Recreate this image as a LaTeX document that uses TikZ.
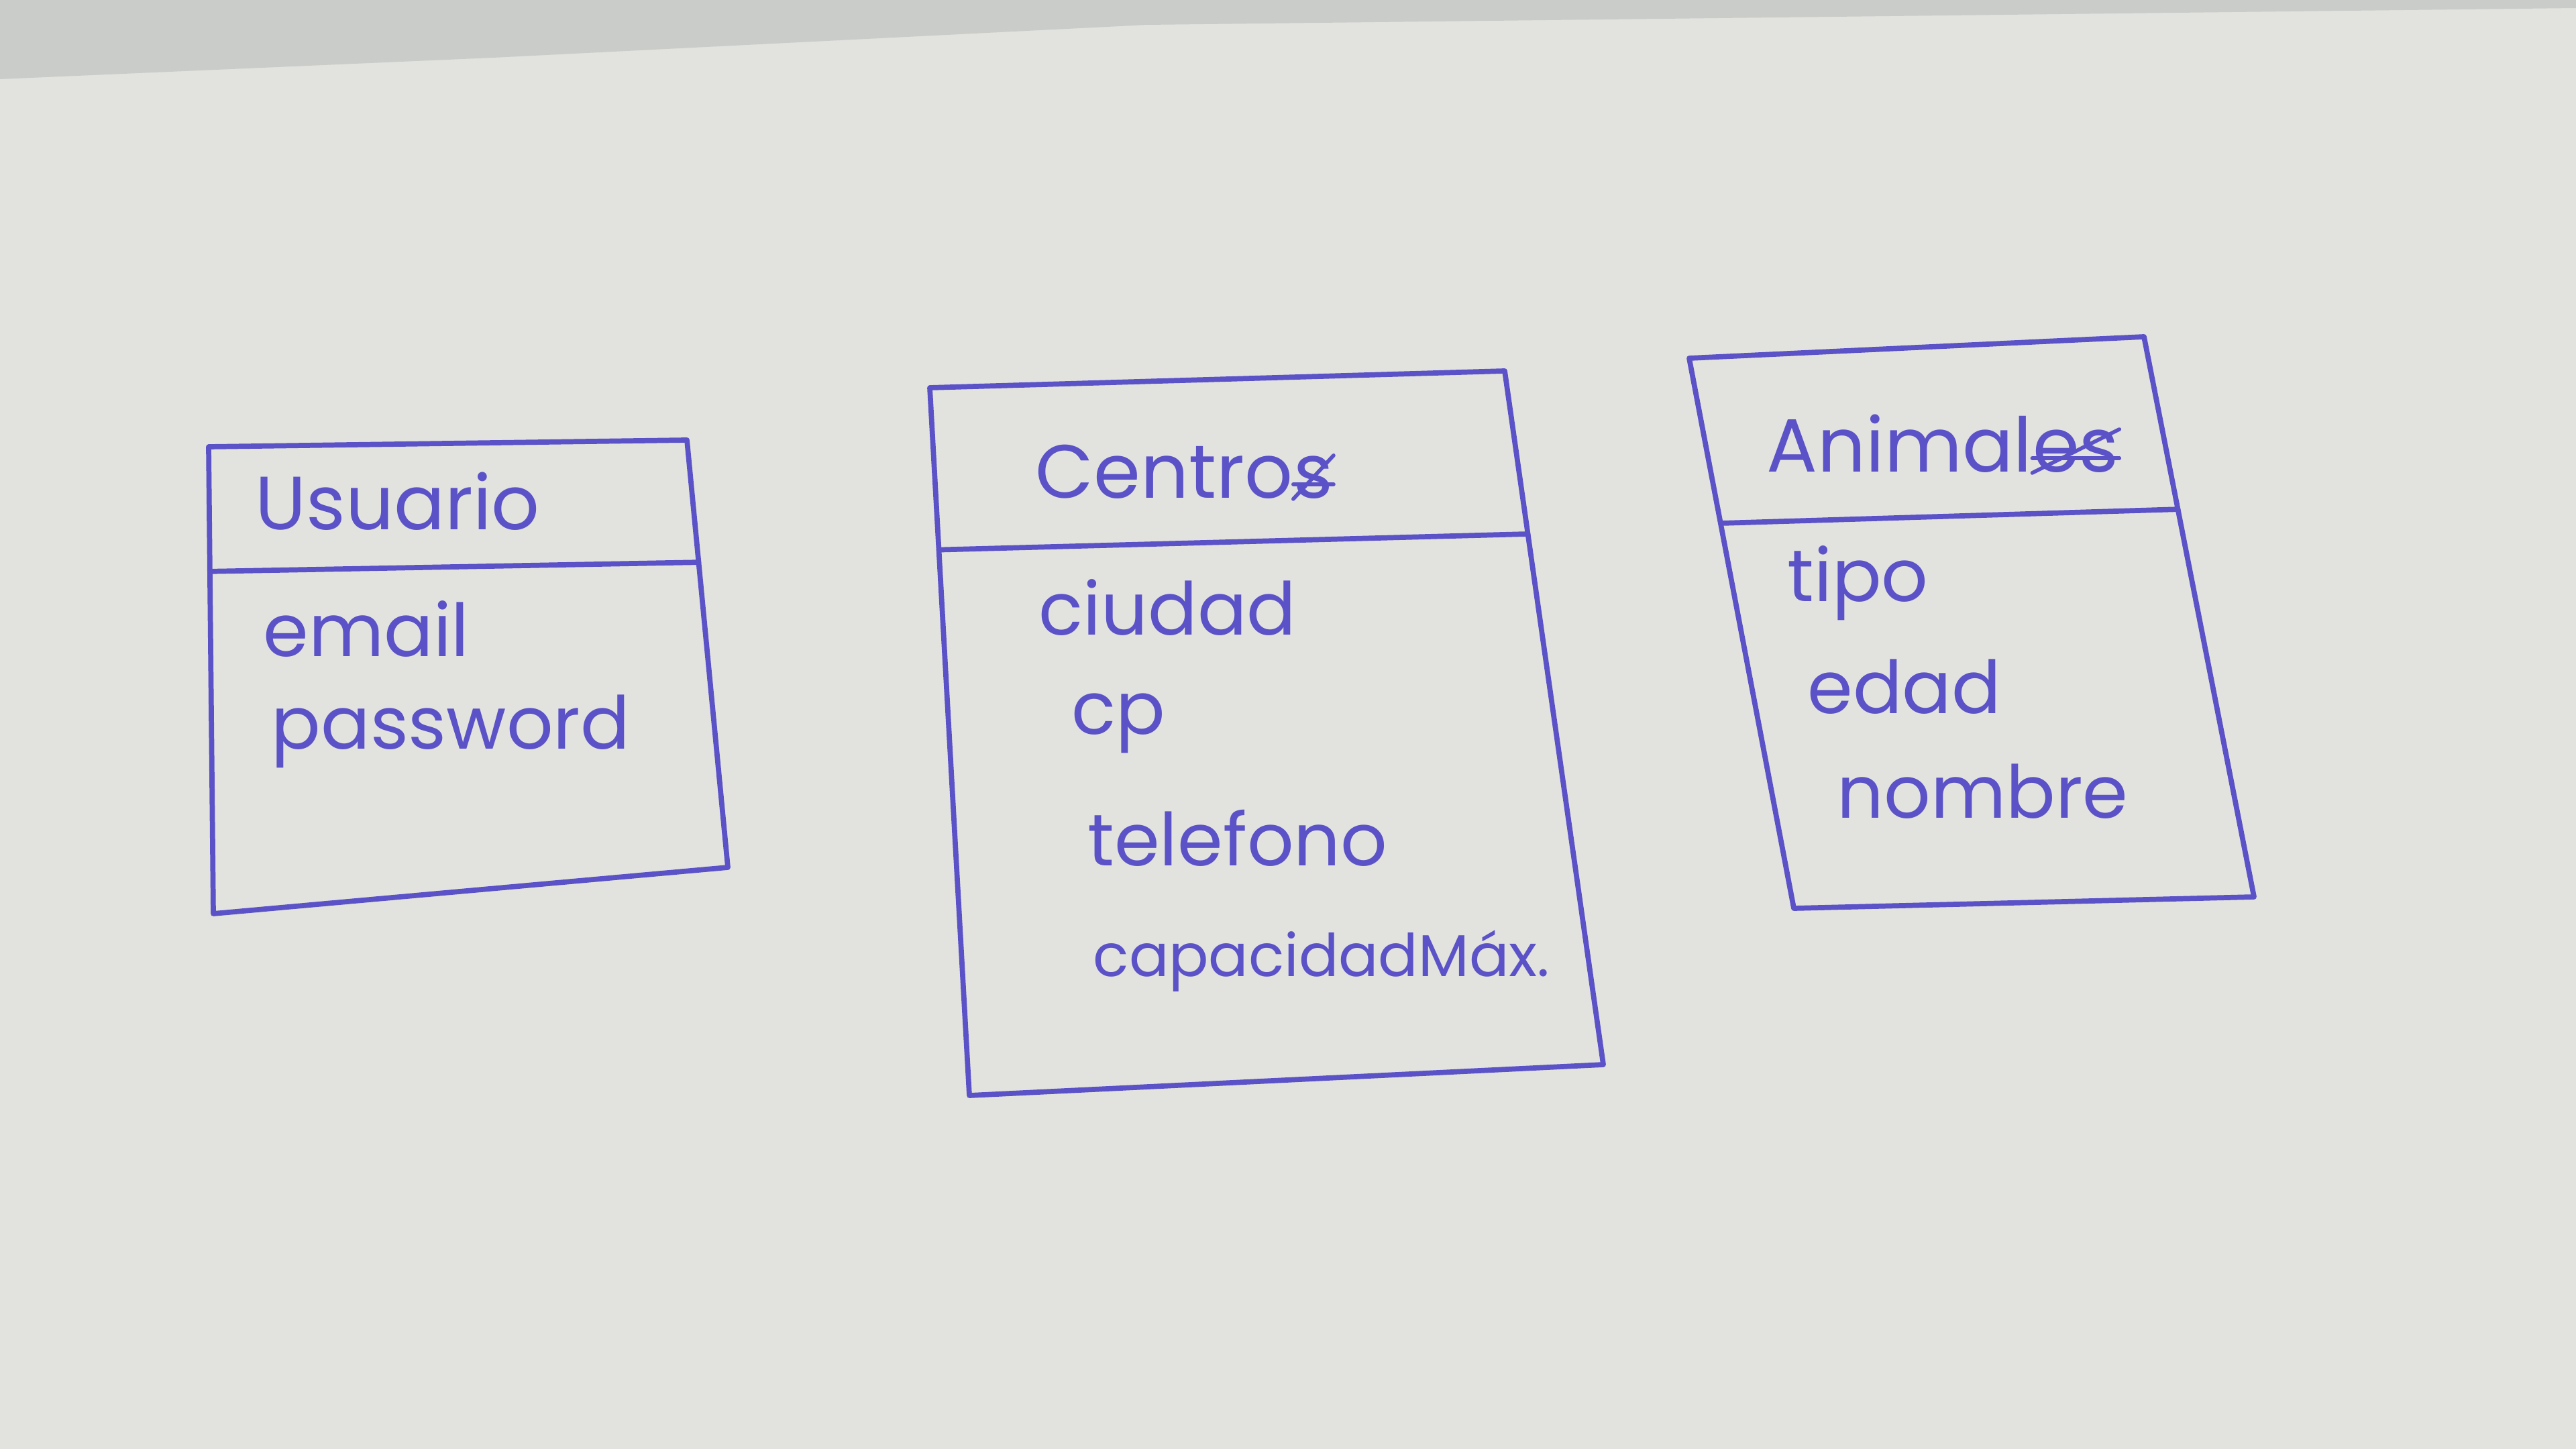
\documentclass[tikz,border=0pt]{standalone}
\usepackage{fontspec}
\setmainfont{Poppins}
\usepackage{tikz}
\usetikzlibrary{calc}
\definecolor{paperGray}{HTML}{E2E3DF}
\definecolor{shadeGray}{HTML}{CACCC9}
\definecolor{inkBlue}{HTML}{5B52C8}

\begin{document}
\begin{tikzpicture}[
  x=1cm, y=-1cm,
  inkline/.style={draw=inkBlue, line width=2.2pt, line join=round, line cap=round},
  scribble/.style={draw=inkBlue, line width=1.6pt, line cap=round},
  classtitle/.style={font=\fontsize{32}{38}\selectfont, text=inkBlue, anchor=west, inner sep=0pt},
  attrtext/.style={font=\fontsize{31}{37}\selectfont, text=inkBlue, anchor=west, inner sep=0pt},
]

% ======= Paper =======
\fill[paperGray] (0,0) rectangle (38.4,21.6);
\fill[shadeGray] (0,0) -- (38.4,0) -- (38.4,0.12) -- (17.1,0.37) -- (7.35,0.86) -- (0,1.18) -- cycle;
\useasboundingbox (0,0) rectangle (38.4,21.6);

% ======= Usuario =======
\coordinate (usTL) at (3.11,6.66);
\coordinate (usTR) at (10.24,6.56);
\coordinate (usBR) at (10.85,12.93);
\coordinate (usBL) at (3.18,13.62);
\draw[inkline] (usTL) -- (usTR) -- (usBR) -- (usBL) -- cycle;
\draw[inkline] ($(usTL)!0.267!(usBL)$) -- ($(usTR)!0.286!(usBR)$);

\node[classtitle] (usuario) at (3.80,7.47) {Usuario};
\node[attrtext] (email) at (3.92,9.38) {email};
\node[attrtext] (password) at (4.04,10.90) {password};

% ======= Centros =======
\coordinate (ceTL) at (13.86,5.78);
\coordinate (ceTR) at (22.43,5.53);
\coordinate (ceBR) at (23.90,15.87);
\coordinate (ceBL) at (14.45,16.33);
\draw[inkline] (ceTL) -- (ceTR) -- (ceBR) -- (ceBL) -- cycle;
\draw[inkline] ($(ceTL)!0.229!(ceBL)$) -- ($(ceTR)!0.235!(ceBR)$);

\node[classtitle] (centros) at (15.43,7.03) {Centro};
\node[classtitle, anchor=base west] (centrosS) at (centros.base east) {s};
\draw[scribble] (centrosS.south west) -- (centrosS.north east);
\draw[scribble] ([yshift=-3pt]centrosS.west) -- ([yshift=-3pt]centrosS.east);
\node[attrtext] (ciudad) at (15.48,9.06) {ciudad};
\node[attrtext] (cp) at (15.97,10.78) {cp};
\node[attrtext] (telefono) at (16.21,12.49) {telefono};
\node[attrtext, font=\fontsize{25}{30}\selectfont] (capmax) at (16.29,14.33) {capacidadMáx.};

% ======= Animales =======
\coordinate (anTL) at (25.18,5.34);
\coordinate (anTR) at (31.96,5.02);
\coordinate (anBR) at (33.60,13.37);
\coordinate (anBL) at (26.74,13.54);
\draw[inkline] (anTL) -- (anTR) -- (anBR) -- (anBL) -- cycle;
\draw[inkline] ($(anTL)!0.30!(anBL)$) -- ($(anTR)!0.308!(anBR)$);

\node[classtitle] (animales) at (26.33,6.61) {Animal};
\node[classtitle, anchor=base west] (animalesES) at (animales.base east) {es};
\draw[scribble] (animalesES.south west) -- (animalesES.north east);
\draw[scribble] ([yshift=-3pt]animalesES.west) -- ([yshift=-3pt]animalesES.east);
\node[attrtext] (tipo) at (26.64,8.69) {tipo};
\node[attrtext] (edad) at (26.94,10.24) {edad};
\node[attrtext] (nombre) at (27.38,11.80) {nombre};

\end{tikzpicture}
\end{document}
